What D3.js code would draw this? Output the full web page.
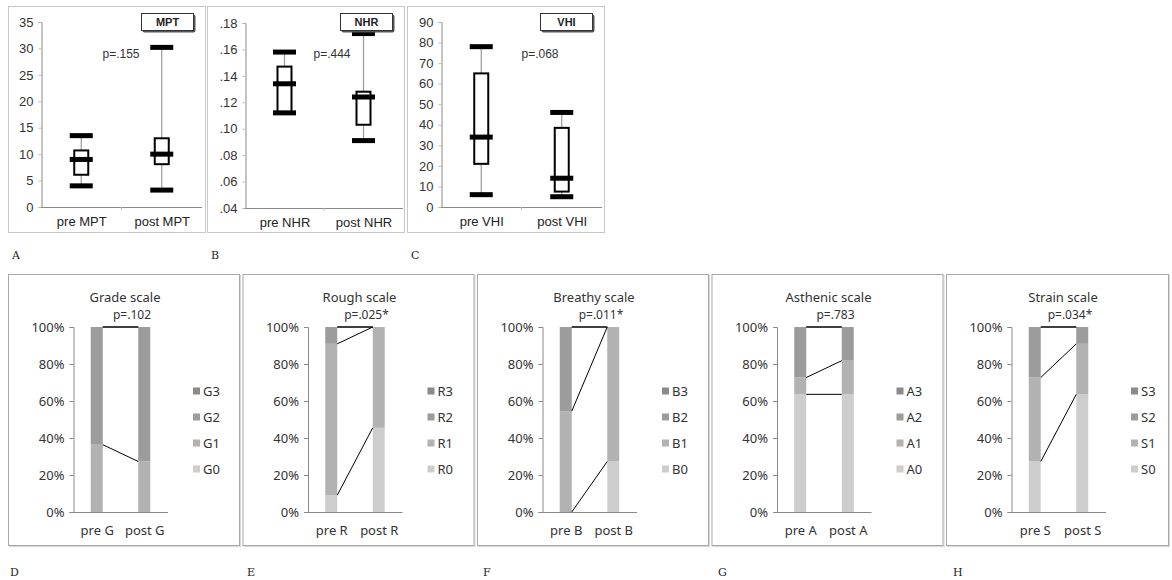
<!DOCTYPE html>
<html>
<head>
    <meta charset="utf-8" />
    <style>
        body { margin: 0; background: #fff; }
        svg { display: block; }
    </style>
    <script src="https://d3js.org/d3.v7.min.js"></script>
</head>
<body>
<svg id="main-graph"></svg>
<script>

// box plot values: [min, q1, median, q3, max]
const mptPre  = [4, 6.1, 9, 10.7, 13.5];
const mptPost = [3.2, 8.1, 10, 13, 30.2];
const nhrPre  = [.112, .112, .134, .147, .158];
const nhrPost = [.091, .103, .124, .128, .172];
const vhiPre  = [6, 21, 34, 65, 78];
const vhiPost = [5, 7.5, 14, 38.5, 46];

const boxNames = ["MPT", "NHR", "VHI"];
const boxP = ["p=.155", "p=.444", "p=.068"];
const mptTicks = [0, 5, 10, 15, 20, 25, 30, 35];
const nhrTicks = [.04, .06, .08, .10, .12, .14, .16, .18];
const vhiTicks = [0, 10, 20, 30, 40, 50, 60, 70, 80, 90];

// perceptual scales: percent at level 0..3
const scaleNames = ["Grade", "Rough", "Breathy", "Asthenic", "Strain"];
const scaleCodes = ["G", "R", "B", "A", "S"];
const scaleP = ["p=.102", "p=.025*", "p=.011*", "p=.783", "p=.034*"];
const gradePre  = [0, 36.4, 63.6, 0];
const gradePost = [0, 27.3, 72.7, 0];
const roughPre  = [9.1, 81.8, 9.1, 0];
const roughPost = [45.5, 54.5, 0, 0];
const breathyPre  = [0, 54.5, 45.5, 0];
const breathyPost = [27.3, 72.7, 0, 0];
const asthenicPre  = [63.6, 9.1, 27.3, 0];
const asthenicPost = [63.6, 18.2, 18.2, 0];
const strainPre  = [27.3, 45.4, 27.3, 0];
const strainPost = [63.6, 27.3, 9.1, 0];
const pctTicks = [0, 20, 40, 60, 80, 100];

const levelColors = ["#cdcdcd", "#b2b2b2", "#9c9c9c", "#8a8a8a"];

let svg = d3.select("#main-graph")
    .attr("width", 1172)
    .attr("height", 580);

/* top row: box plots */

let topPanels = [
    { x0: 8,   axisX: 41,  axisR: 202, y0: 207, y1: 22, dom: [0, 35],    ticks: mptTicks, fmt: d3.format("d"),   pre: mptPre, post: mptPost, pX: 113 },
    { x0: 207, axisX: 245, axisR: 403, y0: 208, y1: 23, dom: [.04, .18], ticks: nhrTicks, fmt: d => d3.format(".2f")(d).replace(/^0/, ""), pre: nhrPre, post: nhrPost, pX: 125 },
    { x0: 407, axisX: 441, axisR: 602, y0: 207, y1: 22, dom: [0, 90],    ticks: vhiTicks, fmt: d3.format("d"),   pre: vhiPre, post: vhiPost, pX: 133 }
];

topPanels.forEach((p, i) => {
    let g = svg.append("g");
    let name = boxNames[i];

    g.append("rect")
        .attr("x", p.x0 + 0.5).attr("y", 6.5)
        .attr("width", 197).attr("height", 226)
        .style("fill", "#fff").style("stroke", "#c8c8c8");

    let y = d3.scaleLinear().domain(p.dom).range([p.y0, p.y1]);
    let cats = ["pre " + name, "post " + name];
    let x = d3.scalePoint().domain(cats).range([p.axisX, p.axisR]).padding(0.5);

    let yAxis = g.append("g")
        .attr("transform", "translate(" + (p.axisX + 0.5) + ",0)")
        .call(d3.axisLeft(y).tickValues(p.ticks).tickFormat(p.fmt).tickSize(3).tickPadding(5));
    yAxis.select(".domain").style("stroke", "#888");
    yAxis.selectAll(".tick line").style("stroke", "#bbb");
    yAxis.selectAll("text")
        .style("font-family", "Liberation Sans, Arial, sans-serif")
        .style("font-size", "13px").style("fill", "#333");

    let xAxis = g.append("g")
        .attr("transform", "translate(0," + (p.y0 + 0.5) + ")")
        .call(d3.axisBottom(x).tickSize(0).tickPadding(9));
    xAxis.select(".domain").attr("d", "M" + p.axisX + ",0H" + p.axisR).style("stroke", "#888");
    xAxis.selectAll("text")
        .style("font-family", "Liberation Sans, Arial, sans-serif")
        .style("font-size", "13px").style("fill", "#222");
    g.append("line")
        .attr("x1", (p.axisX + p.axisR) / 2).attr("x2", (p.axisX + p.axisR) / 2)
        .attr("y1", p.y0).attr("y2", p.y0 + 3)
        .style("stroke", "#bbb");

    [p.pre, p.post].forEach((s, j) => {
        let cx = x(cats[j]);
        g.append("line")
            .attr("x1", cx).attr("x2", cx)
            .attr("y1", y(s[0])).attr("y2", y(s[4]))
            .style("stroke", "#999").style("stroke-width", 1.2);
        g.append("rect")
            .attr("x", cx - 7).attr("y", y(s[3]))
            .attr("width", 14).attr("height", Math.max(0, y(s[1]) - y(s[3])))
            .style("fill", "#fff").style("stroke", "#000").style("stroke-width", 2);
        [s[0], s[2], s[4]].forEach(v => {
            g.append("rect")
                .attr("x", cx - 11.5).attr("y", y(v) - 2.5)
                .attr("width", 23).attr("height", 5)
                .style("fill", "#000");
        });
    });

    g.append("text")
        .attr("x", p.x0 + p.pX).attr("y", 58)
        .attr("text-anchor", "middle")
        .style("font-family", "Liberation Sans, Arial, sans-serif")
        .style("font-size", "12px").style("fill", "#333")
        .text(boxP[i]);

    // label box with shadow
    let lx = p.x0 + 133;
    g.append("rect")
        .attr("x", lx + 1.5).attr("y", 14.5).attr("width", 53).attr("height", 18)
        .attr("rx", 2)
        .style("fill", "#555");
    g.append("rect")
        .attr("x", lx + 0.5).attr("y", 13.5).attr("width", 52).attr("height", 17)
        .style("fill", "#fff").style("stroke", "#333");
    g.append("text")
        .attr("x", lx + 26.5).attr("y", 26)
        .attr("text-anchor", "middle")
        .style("font-family", "Liberation Sans, Arial, sans-serif")
        .style("font-size", "11px").style("font-weight", "bold").style("fill", "#222")
        .text(name);
});

/* bottom row: stacked percentage bars */

let preSets = [gradePre, roughPre, breathyPre, asthenicPre, strainPre];
let postSets = [gradePost, roughPost, breathyPost, asthenicPost, strainPost];

scaleNames.forEach((nm, i) => {
    let left = 8 + i * 234.5;
    let pw = i === 4 ? 222 : 231;
    let code = scaleCodes[i];
    let g = svg.append("g");

    g.append("rect")
        .attr("x", left + 1.5).attr("y", 275.5).attr("width", pw).attr("height", 271)
        .style("fill", "none").style("stroke", "#d8d8d8");
    g.append("rect")
        .attr("x", left + 0.5).attr("y", 274.5).attr("width", pw).attr("height", 271)
        .style("fill", "#fff").style("stroke", "#a8a8a8");

    let y = d3.scaleLinear().domain([0, 100]).range([512, 327]);
    let cats = ["pre " + code, "post " + code];
    let x = d3.scalePoint().domain(cats).range([left + 65, left + 160]).padding(0.5);
    let bw = 12;

    let yAxis = g.append("g")
        .attr("transform", "translate(" + (left + 65.5) + ",0)")
        .call(d3.axisLeft(y).tickValues(pctTicks).tickFormat(d => d + "%").tickSize(4).tickPadding(5));
    yAxis.select(".domain").style("stroke", "#888");
    yAxis.selectAll(".tick line").style("stroke", "#888");
    yAxis.selectAll("text")
        .style("font-family", "Noto Sans, sans-serif")
        .style("font-size", "13px").style("fill", "#333");

    let xAxis = g.append("g")
        .attr("transform", "translate(0,512.5)")
        .call(d3.axisBottom(x).tickSize(0).tickPadding(13));
    xAxis.select(".domain").attr("d", "M" + (left + 65) + ",0H" + (left + 160)).style("stroke", "#888");
    xAxis.selectAll("text")
        .style("font-family", "Noto Sans, sans-serif")
        .style("font-size", "13px").style("fill", "#333");

    let sets = [preSets[i], postSets[i]];
    let cums = sets.map(s => {
        let c = 0;
        return s.map(v => { let lo = c; c += v; return [lo, Math.min(c, 100)]; });
    });

    cums.forEach((cs, j) => {
        g.selectAll(null)
            .data(cs)
            .enter()
            .append("rect")
            .attr("x", x(cats[j]) - bw / 2)
            .attr("y", d => y(d[1]))
            .attr("width", bw)
            .attr("height", d => y(d[0]) - y(d[1]))
            .style("fill", (d, k) => levelColors[k]);
    });

    // series lines joining the segment tops (skip ones lying on the axis)
    g.selectAll(null)
        .data(d3.range(4).filter(k => cums[0][k][1] > 0 || cums[1][k][1] > 0))
        .enter()
        .append("line")
        .attr("x1", x(cats[0]) + bw / 2)
        .attr("x2", x(cats[1]) - bw / 2)
        .attr("y1", k => y(cums[0][k][1]))
        .attr("y2", k => y(cums[1][k][1]))
        .style("stroke", "#000").style("stroke-width", 1);

    g.append("text")
        .attr("x", left + 117).attr("y", 302)
        .attr("text-anchor", "middle")
        .style("font-family", "Noto Sans, sans-serif")
        .style("font-size", "13px").style("fill", "#333")
        .text(nm + " scale");
    g.append("text")
        .attr("x", left + 124).attr("y", 319)
        .attr("text-anchor", "middle")
        .style("font-family", "Noto Sans, sans-serif")
        .style("font-size", "12px").style("fill", "#333")
        .text(scaleP[i]);

    let leg = g.selectAll(null)
        .data([3, 2, 1, 0])
        .enter()
        .append("g")
        .attr("transform", (d, k) => "translate(" + (left + 185) + "," + (391 + k * 26) + ")");
    leg.append("rect")
        .attr("x", 0).attr("y", -3.5).attr("width", 7).attr("height", 7)
        .style("fill", d => levelColors[d]);
    leg.append("text")
        .attr("x", 10).attr("y", 5)
        .style("font-family", "Noto Sans, sans-serif")
        .style("font-size", "13px").style("fill", "#333")
        .text(d => code + d);
});

/* panel letters */
let letterFont = "DejaVu Serif, Liberation Serif, serif";
svg.selectAll(null)
    .data([["A", 12], ["B", 211], ["C", 411]])
    .enter()
    .append("text")
    .attr("x", d => d[1]).attr("y", 259)
    .style("font-family", letterFont).style("font-size", "11px").style("fill", "#222")
    .text(d => d[0]);
svg.selectAll(null)
    .data([["D", 10], ["E", 247], ["F", 483], ["G", 718], ["H", 953]])
    .enter()
    .append("text")
    .attr("x", d => d[1]).attr("y", 576)
    .style("font-family", letterFont).style("font-size", "11px").style("fill", "#222")
    .text(d => d[0]);

</script>
</body>
</html>
